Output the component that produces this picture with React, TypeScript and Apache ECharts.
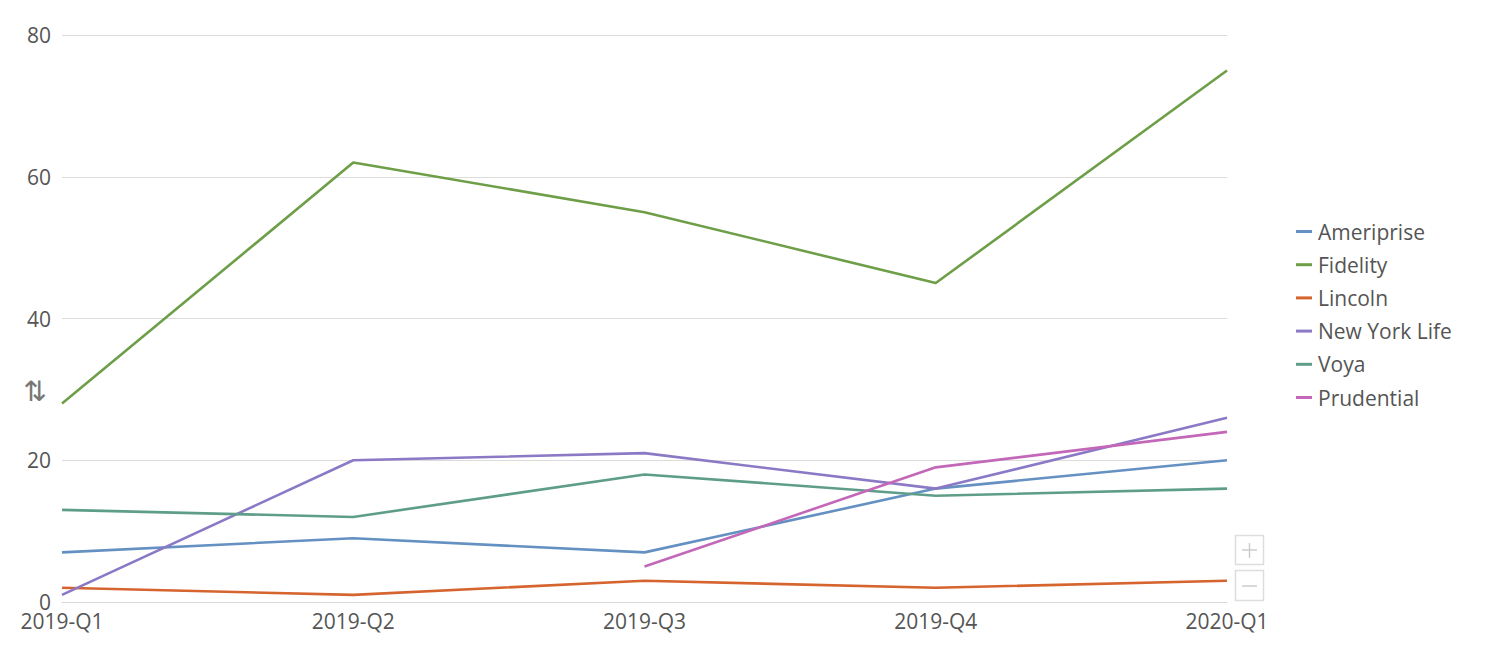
import React, { useEffect, useRef } from "react";
import * as echarts from "echarts";

const categories = ["2019-Q1", "2019-Q2", "2019-Q3", "2019-Q4", "2020-Q1"];
const seriesNames = ["Ameriprise", "Fidelity", "Lincoln", "New York Life", "Voya", "Prudential"];
const ameriprise = [7, 9, 7, 16, 20];
const fidelity = [28, 62, 55, 45, 75];
const lincoln = [2, 1, 3, 2, 3];
const newYorkLife = [1, 20, 21, 16, 26];
const voya = [13, 12, 18, 15, 16];
const prudential = [null, null, 5, 19, 24];
const colors = ["#6490c2", "#6e9f48", "#d5642f", "#8b79c6", "#5e9e88", "#c367b8"];

export default function App() {
  const ref = useRef<HTMLDivElement>(null);
  useEffect(() => {
    const chart = echarts.init(ref.current!, undefined, { renderer: "svg" });
    const data = [ameriprise, fidelity, lincoln, newYorkLife, voya, prudential];
    const font = "'Open Sans', sans-serif";
    chart.setOption({
      animation: false,
      color: colors,
      textStyle: { fontFamily: font },
      grid: { left: 62, right: 281, top: 35, bottom: 50, containLabel: false },
      legend: {
        orient: "vertical",
        left: 1291,
        top: 216,
        icon: "rect",
        itemWidth: 16,
        itemHeight: 3,
        itemGap: 12.2,
        textStyle: { fontSize: 21, color: "#555", fontFamily: font, padding: [0, 0, 0, 1] },
        data: seriesNames,
      },
      xAxis: {
        type: "category",
        data: categories,
        boundaryGap: false,
        axisLine: { lineStyle: { color: "#d8d8d8", width: 1 } },
        axisTick: { show: false },
        axisLabel: { color: "#555", fontSize: 21, margin: 8, fontFamily: font },
      },
      yAxis: {
        type: "value",
        min: 0,
        max: 80,
        interval: 20,
        axisLine: { show: false },
        axisTick: { show: false },
        splitLine: { lineStyle: { color: "#dcdcdc", width: 1 } },
        axisLabel: { color: "#555", fontSize: 21, margin: 11, fontFamily: font, verticalAlign: "middle" },
      },
      series: seriesNames.map((name, i) => ({
        name,
        type: "line",
        data: data[i],
        symbol: "none",
        showSymbol: false,
        connectNulls: false,
        lineStyle: { width: 2.6, color: colors[i] },
        itemStyle: { color: colors[i] },
      })),
      graphic: [
        {
          type: "text",
          x: 35,
          y: 391,
          style: { text: "⇅", fontSize: 28, fill: "#777", fontFamily: "DejaVu Sans", align: "center", verticalAlign: "middle" },
        },
        {
          type: "rect",
          shape: { x: 1235.5, y: 535.5, width: 28, height: 29 },
          style: { fill: "#fff", stroke: "#ddd", lineWidth: 1.5 },
        },
        {
          type: "line",
          shape: { x1: 1242, y1: 550, x2: 1257, y2: 550 },
          style: { stroke: "#ccc", lineWidth: 1.5 },
        },
        {
          type: "line",
          shape: { x1: 1249.5, y1: 543, x2: 1249.5, y2: 558 },
          style: { stroke: "#ccc", lineWidth: 1.5 },
        },
        {
          type: "rect",
          shape: { x: 1235.5, y: 570.5, width: 28, height: 30 },
          style: { fill: "#fff", stroke: "#ddd", lineWidth: 1.5 },
        },
        {
          type: "line",
          shape: { x1: 1242, y1: 586, x2: 1257, y2: 586 },
          style: { stroke: "#ccc", lineWidth: 1.5 },
        },
      ],
    });
    return () => chart.dispose();
  }, []);
  return <div ref={ref} style={{ width: 1508, height: 652, position: "absolute", left: 0, top: 0 }} />;
}
